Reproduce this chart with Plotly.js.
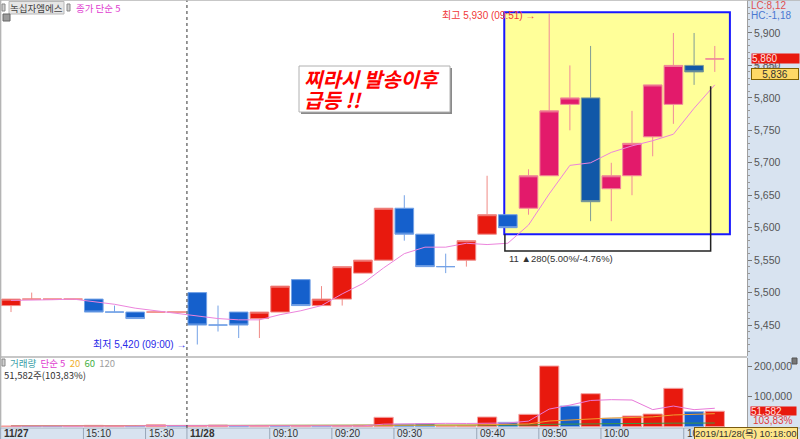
<!DOCTYPE html>
<html><head><meta charset="utf-8">
<script src="https://cdn.plot.ly/plotly-3.0.1.min.js"></script>
<style>html,body{margin:0;padding:0;background:#fff;}#chart{width:800px;height:439px;}</style>
</head><body><div id="chart"></div>
<script>
// ---- data (3-minute bars, 녹십자엠에스) ----
const tickIdx  = [0, 4, 7, 9, 13, 16, 19, 23, 26, 29, 33];
const tickText = ['11/27','15:10','15:30','11/28','09:10','09:20','09:30','09:40','09:50','10:00','10:10'];
const tickBold = [true,false,false,true,false,false,false,false,false,false,false];

const open  = [5480,5490,5490,5490,5490,5470,5470,5470,5470,5500,5450,5470,5460,5470,5520,5480,5490,5530,5550,5630,5590,5540,5550,5590,5620,5630,5680,5790,5800,5660,5680,5740,5790,5850,5860];
const high  = [5490,5500,5490,5490,5490,5480,5470,5470,5470,5500,5480,5470,5470,5510,5520,5510,5540,5550,5630,5650,5590,5560,5580,5680,5620,5690,5930,5850,5880,5700,5780,5820,5900,5900,5880];
const low   = [5470,5490,5490,5490,5470,5470,5460,5470,5470,5420,5440,5430,5430,5470,5480,5480,5480,5530,5550,5580,5540,5530,5540,5590,5600,5620,5680,5750,5610,5610,5650,5710,5760,5820,5840];
const close = [5490,5490,5490,5490,5470,5470,5460,5470,5470,5450,5450,5450,5470,5510,5480,5490,5540,5550,5630,5590,5540,5540,5580,5620,5600,5680,5780,5800,5640,5680,5730,5820,5850,5840,5860];
const candleDir = [1,1,1,1,-1,-1,-1,1,1,-1,-1,-1,1,1,-1,1,1,1,1,-1,-1,-1,1,1,-1,1,1,1,-1,1,1,1,1,-1,1];
const priceMA5 = [5488,5488,5489,5490,5486,5482,5476,5472,5468,5464,5460,5458,5458,5466,5472,5480,5498,5514,5538,5560,5570,5570,5576,5574,5576,5604,5652,5696,5700,5716,5726,5734,5744,5784,5820];

const volume = [2500,1500,1500,1500,4500,3000,2000,6500,2000,2500,5500,2500,2000,2500,2000,1500,2500,5000,31300,8000,9500,2000,3000,32300,14600,41300,202300,69000,110000,28000,35700,42300,128000,50000,51582];
const volDir = [1,-1,-1,0,1,1,-1,1,-1,1,1,-1,1,-1,1,-1,1,1,1,-1,-1,1,1,1,-1,1,1,-1,1,-1,1,1,1,-1,1];
const volMA5  = [2200,2000,1900,1800,2200,2400,2500,3500,3600,3200,3700,3800,2900,3000,2900,2100,2100,2700,8500,9700,11300,11200,10800,11000,12300,18600,58700,71900,87400,90100,89000,57000,68800,56800,61500];
const volMA20 = [3000,3000,3000,3000,3000,3000,3000,3100,3100,3100,3200,3200,3200,3200,3200,3200,3200,3300,4600,4900,5200,5200,5300,6800,7300,9200,19000,22300,27700,29000,30700,32800,39100,41500,43400];
const volMA60 = [3500,3500,3500,3500,3500,3500,3500,3500,3500,3500,3500,3500,3500,3500,3500,3500,3500,3600,4000,4100,4300,4300,4300,4800,5000,5600,8000,9000,10500,10800,11000,11200,11800,12000,12200];

const priceTicks = [5450,5500,5550,5600,5650,5700,5750,5800,5850,5900];
const volTicks = [100000, 200000];
const boxStart = 24.5;   // highlighted region starts after this bar

// ---- helpers ----
const W = 747, H = 428;
const XR = [-0.5314, 35.556];
const PX = px => px / W;
const PY = py => (H - py) / H;
const xPaper = k => (k - XR[0]) / (XR[1] - XR[0]);
const idx = close.map((_, i) => i);
const FONT = 'Liberation Sans, Noto Sans CJK KR, sans-serif';
const KFONT = 'Noto Sans CJK KR, Liberation Sans, sans-serif';

const traces = [];
// volume bars
const vc = {1: '#e8190e', '-1': '#1560cc', 0: '#e040c0'};
const vl = {1: '#f4a4a4', '-1': '#8fb4ea', 0: '#f0a0e0'};
traces.push({type:'bar', x: idx, y: volume, yaxis:'y2', width: 0.93,
  marker:{color: volDir.map(d => vc[d]), line:{color: volDir.map(d => vl[d]), width:1}},
  hoverinfo:'skip', showlegend:false});
[[volMA60,'#3c9a3c'],[volMA20,'#f0a030'],[volMA5,'#e879d9']].forEach(([arr,c]) => {
  traces.push({type:'scatter', mode:'lines', x: idx, y: arr, yaxis:'y2', line:{color:c, width:1}, hoverinfo:'skip', showlegend:false});
});
// price MA
traces.push({type:'scatter', mode:'lines', x: idx, y: priceMA5, yaxis:'y', line:{color:'#ec84dc', width:1}, hoverinfo:'skip', showlegend:false});
// candles
function candle(filter, fill, line) {
  const ks = idx.filter(filter);
  return {type:'candlestick', x: ks, open: ks.map(i=>open[i]), high: ks.map(i=>high[i]),
    low: ks.map(i=>low[i]), close: ks.map(i=>close[i]), yaxis:'y', whiskerwidth: 0,
    increasing:{fillcolor: fill, line:{color: line, width: 1}},
    decreasing:{fillcolor: fill, line:{color: line, width: 1}},
    hoverinfo:'none', showlegend:false};
}
traces.push(candle(i => candleDir[i] > 0 && i < boxStart, '#e8190e', '#f08a86'));
traces.push(candle(i => candleDir[i] < 0 && i < boxStart, '#1560cc', '#74a2e6'));
traces.push(candle(i => candleDir[i] > 0 && i > boxStart, '#e31a6b', '#f08a9a'));
traces.push(candle(i => candleDir[i] < 0 && i > boxStart, '#1158a8', '#7f9c96'));

// ---- shapes ----
const shapes = [];
const AXBG = '#d8e3f0';
shapes.push({type:'rect', xref:'paper', yref:'paper', x0:1, x1:800/W, y0:0, y1:1, fillcolor:AXBG, line:{width:0}, layer:'below'});
shapes.push({type:'rect', xref:'paper', yref:'paper', x0:0, x1:800/W, y0:PY(439.5), y1:PY(428), fillcolor:AXBG, line:{width:0}, layer:'below'});
shapes.push({type:'line', xref:'paper', yref:'paper', x0:0, x1:800/W, y0:PY(428), y1:PY(428), line:{color:'#a8b4c4', width:1}});
// highlighted region
shapes.push({type:'rect', xref:'x', yref:'y', x0:23.83, x1:34.73, y0:5590, y1:5932, fillcolor:'#ffff99', line:{color:'#1818ff', width:2}, layer:'below'});
// measurement bracket
shapes.push({type:'path', xref:'x', yref:'y', path:'M 23.86 5590 L 23.86 5564 L 33.8 5564 L 33.8 5818', line:{color:'#222', width:1.5}});
// day separator
shapes.push({type:'line', xref:'paper', yref:'paper', x0:xPaper(8.5), x1:xPaper(8.5), y0:0, y1:1, line:{color:'#333', width:1, dash:'dot'}});
// panel separator & borders
shapes.push({type:'line', xref:'paper', yref:'paper', x0:0, x1:1, y0:PY(357), y1:PY(357), line:{color:'#b4b4b4', width:1.5}});
shapes.push({type:'line', xref:'paper', yref:'paper', x0:0, x1:800/W, y0:1, y1:1, line:{color:'#b4b4b4', width:1.5}});
shapes.push({type:'line', xref:'paper', yref:'paper', x0:0.0008, x1:0.0008, y0:0, y1:1, line:{color:'#b4b4b4', width:1.5}});
// x label separators
tickIdx.forEach(k => {
  shapes.push({type:'line', xref:'paper', yref:'paper', x0:xPaper(k-0.5), x1:xPaper(k-0.5), y0:PY(439), y1:PY(428), line:{color:'#98a6b8', width:1}});
});
// comment box with shadow
shapes.push({type:'rect', xref:'paper', yref:'paper', x0:PX(301), x1:PX(452), y0:PY(114), y1:PY(68), fillcolor:'#8a8a8a', line:{width:0}});
shapes.push({type:'rect', xref:'paper', yref:'paper', x0:PX(299), x1:PX(450), y0:PY(112), y1:PY(66), fillcolor:'#ffffff', line:{color:'#b0b0b0', width:1}});
// small icons
shapes.push({type:'rect', xref:'paper', yref:'paper', x0:PX(2), x1:PX(5), y0:PY(11), y1:PY(4), fillcolor:'#d0d0d0', line:{color:'#888', width:1}});
shapes.push({type:'rect', xref:'paper', yref:'paper', x0:PX(9), x1:PX(64), y0:PY(14), y1:PY(1.5), fillcolor:'#e6e6e6', line:{color:'#b8b8b8', width:1}});
shapes.push({type:'rect', xref:'paper', yref:'paper', x0:PX(67), x1:PX(70), y0:PY(11), y1:PY(4), fillcolor:'#d0d0d0', line:{color:'#888', width:1}});
shapes.push({type:'rect', xref:'paper', yref:'paper', x0:PX(3), x1:PX(10), y0:PY(21), y1:PY(14), fillcolor:'#9a9a9a', line:{color:'#666', width:1}});
shapes.push({type:'rect', xref:'paper', yref:'paper', x0:PX(2), x1:PX(5), y0:PY(366), y1:PY(359), fillcolor:'#d0d0d0', line:{color:'#888', width:1}});
shapes.push({type:'rect', xref:'paper', yref:'paper', x0:PX(792), x1:PX(797), y0:PY(364), y1:PY(358), fillcolor:'#777', line:{color:'#555', width:1}});

// ---- annotations ----
const ann = [];
const A = (o) => ann.push(Object.assign({showarrow:false, xref:'paper', yref:'paper'}, o));
tickIdx.forEach((k, i) => {
  A({x: xPaper(k-0.5), xshift: 1, xanchor:'left', y: PY(433.7), yanchor:'middle',
     text: tickBold[i] ? '<b>' + tickText[i] + '</b>' : tickText[i], font:{family:FONT, size:10, color:'#333'}});
});
// title legend
A({x: PX(36.5), xanchor:'center', y: PY(7.8), yanchor:'middle', text:'녹십자엠에스', font:{family:KFONT, size:9.5, color:'#444'}});
A({x: PX(74), xanchor:'left', y: PY(7.8), yanchor:'middle', text:'종가 단순 5', font:{family:KFONT, size:9.5, color:'#e040d0'}});
// volume legend
A({x: PX(8), xanchor:'left', y: PY(362.5), yanchor:'middle',
   text:'<span style="color:#3aa0a8">거래량</span>  <span style="color:#e040d0">단순 5</span>  <span style="color:#f0b030">20</span>  <span style="color:#44b044">60</span>  <span style="color:#a0a0a0">120</span>',
   font:{family:KFONT, size:9.5, color:'#333'}});
A({x: PX(2), xanchor:'left', y: PY(374.5), yanchor:'middle', text:'51,582주(103,83%)', font:{family:KFONT, size:9.5, color:'#333'}});
// high / low markers
const hiK = high.indexOf(Math.max(...high)), loK = low.indexOf(Math.min(...low));
ann.push({xref:'x', yref:'y', x: hiK, y: high[hiK], xshift:-12, yshift:-1.5, xanchor:'right', yanchor:'middle', showarrow:false,
  text:'최고 5,930 (09:51) →', font:{family:FONT, size:10, color:'#f03838'}});
ann.push({xref:'x', yref:'y', x: loK, y: low[loK], xshift:-9, xanchor:'right', yanchor:'middle', showarrow:false,
  text:'최저 5,420 (09:00) →', font:{family:FONT, size:10, color:'#2a2ae8'}});
// measurement
ann.push({xref:'x', yref:'y', x: 23.86, y: 5553, xshift:2, xanchor:'left', yanchor:'middle', showarrow:false,
  text:'11 ▲280(5.00%/-4.76%)', font:{family:FONT, size:9.5, color:'#333'}});
// comment
A({x: PX(302), xanchor:'left', y: PY(78.5), yanchor:'middle', text:'찌라시 발송이후', font:{family:KFONT, size:20, color:'#ff0000', weight:'bold', style:'italic'}});
A({x: PX(302), xanchor:'left', y: PY(99.5), yanchor:'middle', text:'급등 !!', font:{family:KFONT, size:20, color:'#ff0000', weight:'bold', style:'italic'}});
// right axis labels
A({x: PX(749), xanchor:'left', y: PY(5.5), yanchor:'middle', text:'LC:8,12', font:{family:FONT, size:10, color:'#e05050'}});
A({x: PX(749), xanchor:'left', y: PY(15.5), yanchor:'middle', text:'HC:-1,18', font:{family:FONT, size:10, color:'#4a78d0'}});
A({x: PX(752), xanchor:'left', y: PY(68), yanchor:'middle', text:'7,13%', font:{family:FONT, size:9, color:'#888'}});
ann.push({xref:'paper', yref:'y', x: PX(750.5), y: close[close.length-1], xanchor:'left', yanchor:'middle', showarrow:false,
  width: 47, height: 9, align:'left', borderpad:0, bgcolor:'#e8190e', text:'5,860', font:{family:FONT, size:10, color:'#ffe0e0'}});
A({x: PX(750.5), xanchor:'left', y: PY(74), yanchor:'middle', width:46, height:10, align:'center', borderpad:0,
   bgcolor:'#ffd966', bordercolor:'#806000', borderwidth:1, text:'5,836', font:{family:FONT, size:10, color:'#333'}});
ann.push({xref:'paper', yref:'y2', x: PX(750), y: volume[volume.length-1], xanchor:'left', yanchor:'middle', showarrow:false,
  width: 45, height: 8, align:'left', borderpad:0, bgcolor:'#e8190e', text:'51,582', font:{family:FONT, size:10, color:'#ffe0e0'}});
A({x: PX(751), xanchor:'left', y: PY(420.5), yanchor:'middle', text:'103,83%', font:{family:FONT, size:10, color:'#e03a3a'}});
// date box
A({x: PX(694), xanchor:'left', y: PY(433.7), yanchor:'middle', borderpad:0, bgcolor:'#ffe68a', bordercolor:'#7a5a10', borderwidth:1,
   text:'2019/11/28(목) 10:18:00', font:{family:FONT, size:9.5, color:'#333'}});

const layout = {
  width: 800, height: 439,
  margin: {l:0, r:53, t:0, b:11, pad:0},
  paper_bgcolor:'#ffffff', plot_bgcolor:'#ffffff',
  showlegend:false, hovermode:false, dragmode:false,
  boxgap: 0.1, boxgroupgap: 0,
  bargap: 0.07,
  xaxis: {range: XR, showticklabels:false, showgrid:false, zeroline:false, showline:false, ticks:'',
          rangeslider:{visible:false}, fixedrange:true, anchor:'y2'},
  yaxis: {domain:[PY(356), 1], range:[5402.3, 5950.8], side:'right', anchor:'x', showgrid:false, zeroline:false,
          showline:true, linecolor:'#a0a0a0', linewidth:1, ticks:'outside', ticklen:4, tickcolor:'#777',
          tickmode:'array', tickvals: priceTicks, tickformat:',d',
          minor:{tickmode:'linear', tick0:5400, dtick:10, ticks:'outside', ticklen:2, tickcolor:'#999', showgrid:false},
          tickfont:{family:FONT, size:10.5, color:'#555'}, fixedrange:true},
  yaxis2: {domain:[0, PY(358)], range:[-4333, 229000], side:'right', anchor:'x', showgrid:false, zeroline:false,
          showline:true, linecolor:'#a0a0a0', linewidth:1, ticks:'outside', ticklen:4, tickcolor:'#777',
          tickmode:'array', tickvals: volTicks, tickformat:',d',
          tickfont:{family:FONT, size:10.5, color:'#555'}, fixedrange:true},
  shapes: shapes,
  annotations: ann
};
Plotly.newPlot('chart', traces, layout, {displayModeBar:false, staticPlot:true});
</script>
</body></html>
